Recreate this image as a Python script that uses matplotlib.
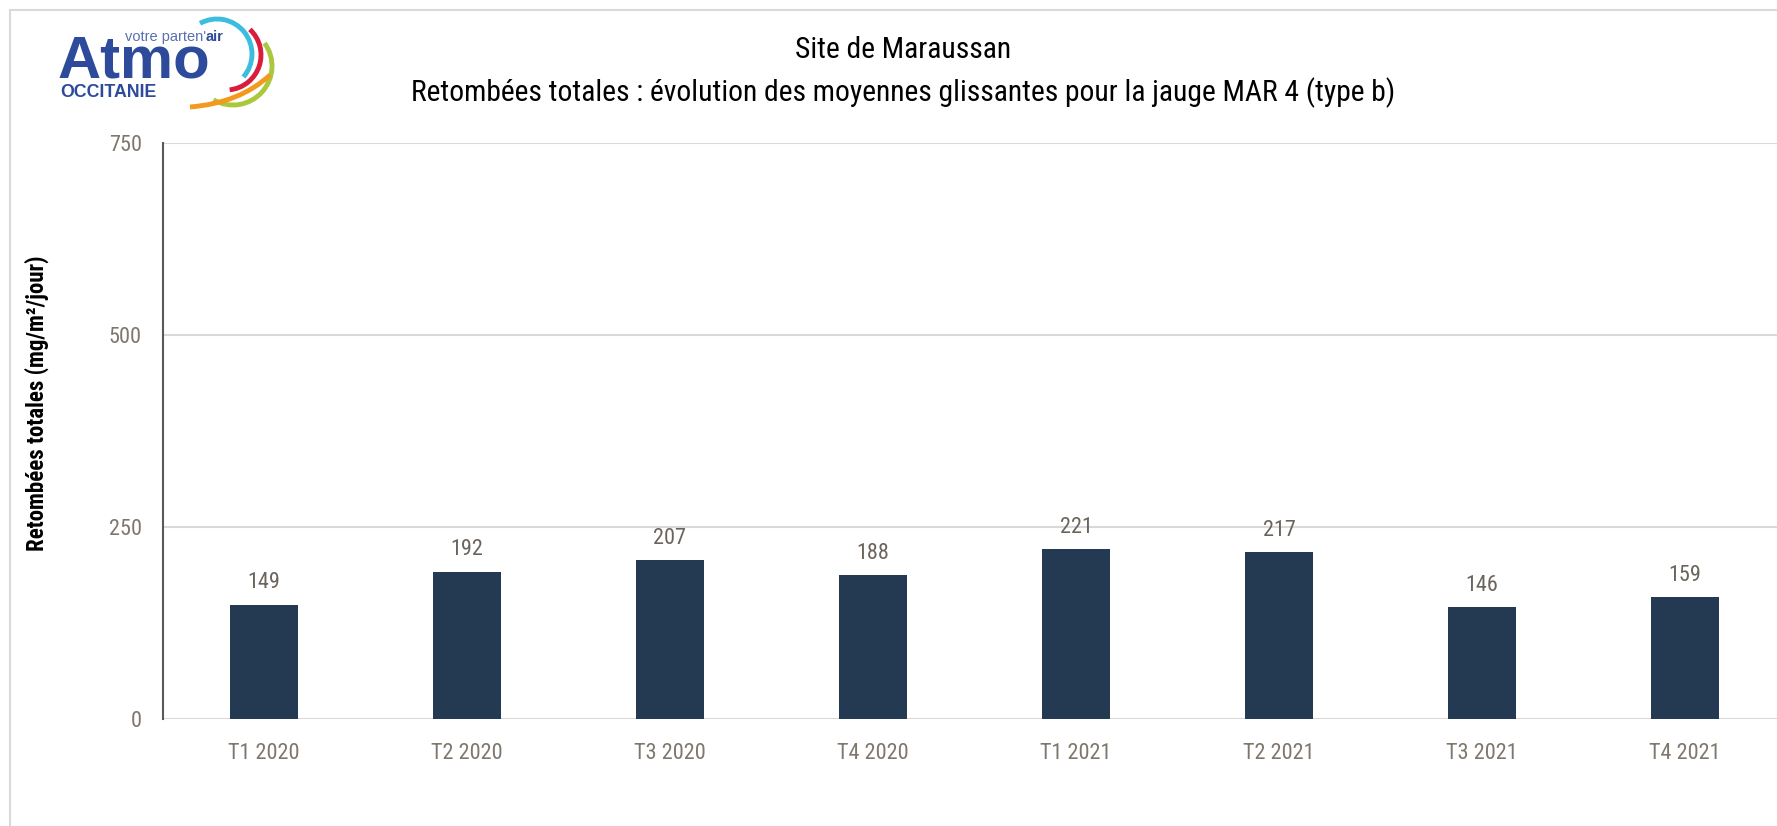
import matplotlib
matplotlib.use("Agg")
import matplotlib.pyplot as plt
from matplotlib import font_manager
from matplotlib.font_manager import FontProperties
from matplotlib.lines import Line2D
from matplotlib.patches import Arc, PathPatch
from matplotlib.path import Path

categories = ["T1 2020", "T2 2020", "T3 2020", "T4 2020",
              "T1 2021", "T2 2021", "T3 2021", "T4 2021"]
values = [149, 192, 207, 188, 221, 217, 146, 159]
yticks = [0, 250, 500, 750]

plt.rcParams["font.family"] = ["Liberation Sans", "DejaVu Sans"]


def narrow_font(bold):
    # look for an installed narrow / condensed sans face
    order = ["Liberation Sans Narrow", "Arial Narrow", "Roboto Condensed",
             "DejaVu Sans", "Noto Sans", "Open Sans", "Roboto"]
    found = {}
    for f in font_manager.fontManager.ttflist:
        st = f.stretch
        cond = ("Narrow" in f.name or "Condensed" in f.name
                or st in ("condensed", "semi-condensed", "extra-condensed")
                or (isinstance(st, int) and st < 500))
        if not cond or f.style != "normal":
            continue
        w = f.weight if isinstance(f.weight, int) else (700 if f.weight == "bold" else 400)
        if (w >= 600) != bold:
            continue
        if "Light" in f.fname or "Medium" in f.fname or "Black" in f.fname:
            continue
        found.setdefault(f.name, f.fname)
    for n in order:
        if n in found:
            return FontProperties(fname=found[n])
    if found:
        return FontProperties(fname=sorted(found.values())[0])
    return FontProperties(family="Liberation Sans", weight="bold" if bold else "normal")


reg = narrow_font(False)
bld = narrow_font(True)

W, H = 1777, 826
fig = plt.figure(figsize=(W / 100, H / 100), dpi=100)

# outer chart border (partly cropped in the original)
fig.add_artist(Line2D([10 / W, 10 / W], [0, 1 - 10 / H], color="#d9d9d9", lw=1.5))
fig.add_artist(Line2D([10 / W, 1], [1 - 10 / H, 1 - 10 / H], color="#d9d9d9", lw=1.5))

ax = fig.add_axes([162.5 / W, 1 - 719 / H, 1624 / W, (719 - 143) / H])
x = range(len(categories))
bars = ax.bar(x, values, width=0.335, color="#243a52", zorder=3)
ax.set_xlim(-0.5, len(categories) - 0.5)
ax.set_ylim(0, 750)
ax.set_yticks(yticks)
ax.set_xticks(list(x))
ax.set_xticklabels(categories)
ax.grid(axis="y", color="#d9d9d9", lw=1.5, zorder=0)
for s in ["top", "right", "bottom"]:
    ax.spines[s].set_visible(False)
ax.spines["left"].set_color("#595959")
ax.spines["left"].set_linewidth(1.5)
ax.tick_params(axis="both", length=0, labelcolor="#7f776d")
ax.tick_params(axis="x", pad=17)
ax.tick_params(axis="y", pad=15)
for lab in ax.get_xticklabels() + ax.get_yticklabels():
    lab.set_fontproperties(reg)
    lab.set_fontsize(16)
for b, v in zip(bars, values):
    ax.annotate(str(v), (b.get_x() + b.get_width() / 2, v), xytext=(0, 8),
                textcoords="offset points", ha="center", va="bottom",
                fontproperties=reg, fontsize=16, color="#6b645c")

fig.text(37 / W, 1 - 403 / H, "Retombées totales (mg/m²/jour)", rotation=90,
         ha="center", va="center", fontproperties=bld, fontsize=16.5, color="black")

fig.text(903 / W, 1 - 50 / H, "Site de Maraussan", ha="center", va="center",
         fontproperties=reg, fontsize=21.3, color="black")
fig.text(903 / W, 1 - 93 / H,
         "Retombées totales : évolution des moyennes glissantes pour la jauge MAR 4 (type b)",
         ha="center", va="center", fontproperties=reg, fontsize=21.3, color="black")

# logo, in pixel units of the picture (x from 40, y measured up from 115)
lg = fig.add_axes([40 / W, 1 - 115 / H, 250 / W, 105 / H])
lg.set_xlim(0, 250)
lg.set_ylim(0, 105)
lg.axis("off")
lg.text(18, 37, "Atmo", fontsize=43, fontweight="bold", color="#2e4b9b", va="baseline")
t = lg.text(85, 74, "votre parten'", fontsize=10.5, color="#5a6fb0", va="baseline")
lg.annotate("air", xy=(1, 0), xycoords=t, fontsize=10.5, fontweight="bold",
            color="#2e4b9b", va="bottom")
lg.text(20, 18, "OCCITANIE", fontsize=12.8, fontweight="bold", color="#2e4b9b", va="baseline")
arcs = [("#3bbde0", (177, 61), 35, -41, 119),
        ("#d81e3c", (186, 60), 35, -84, 47),
        ("#a9c83c", (193, 49), 39, -120, 36)]
for col, c, r, t1, t2 in arcs:
    lg.add_patch(Arc(c, 2 * r, 2 * r, theta1=t1, theta2=t2, color=col, lw=3.5))
orange = Path([(230, 40), (200, 12), (150, 8)], [Path.MOVETO, Path.CURVE3, Path.CURVE3])
lg.add_patch(PathPatch(orange, fill=False, edgecolor="#f39a1e", lw=3.5))

fig.savefig("out.png", dpi=100)
